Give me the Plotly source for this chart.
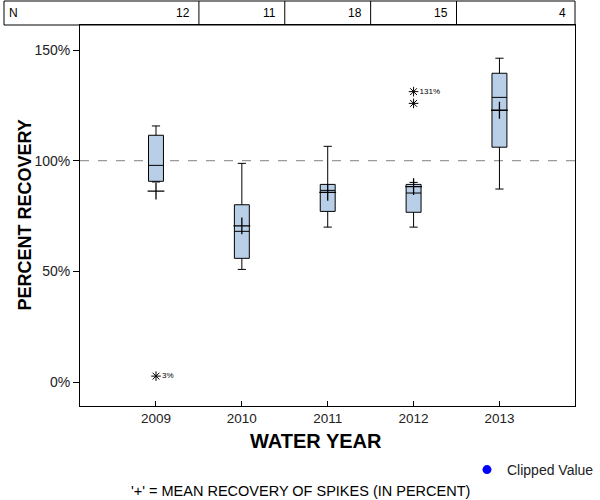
import plotly.graph_objects as go

years = ["2009", "2010", "2011", "2012", "2013"]
n_counts = [12, 11, 18, 15, 4]
q1 = [90.7, 55.9, 77.1, 76.7, 106.1]
median = [97.9, 68.1, 86.6, 85.4, 128.6]
q3 = [111.5, 80.1, 89.3, 89.3, 139.5]
lower_whisker = [90.4, 50.9, 70.0, 70.0, 87.2]
upper_whisker = [115.7, 98.8, 106.5, 90.2, 146.3]
means = [86.3, 70.6, 85.7, 88.3, 122.8]
outlier_year_idx = [0, 3, 3]
outlier_values = [2.7, 131.2, 125.9]
outlier_labels = ["3%", "131%", ""]
y_ticks = [0, 50, 100, 150]
y_tick_text = ["0%", "50%", "100%", "150%"]

pos = list(range(len(years)))
FONT = "Arial, Liberation Sans, sans-serif"

fig = go.Figure()
fig.add_trace(go.Box(
    x=pos, q1=q1, median=median, q3=q3,
    lowerfence=lower_whisker, upperfence=upper_whisker,
    width=0.174, whiskerwidth=0.55,
    fillcolor="#B9CFE8", line=dict(color="black", width=1),
    showlegend=False, hoverinfo="skip",
))
fig.add_trace(go.Scatter(
    x=pos, y=means, mode="markers",
    marker=dict(symbol="cross-thin-open", size=12, color="black",
                line=dict(color="black", width=1.3)),
    showlegend=False, hoverinfo="skip",
))
fig.add_trace(go.Scatter(
    x=[pos[i] for i in outlier_year_idx], y=outlier_values,
    mode="markers+text", text=outlier_labels, textposition="middle right",
    textfont=dict(family=FONT, size=8, color="black"),
    marker=dict(symbol="asterisk-open", size=8, color="black",
                line=dict(color="black", width=1)),
    showlegend=False, hoverinfo="skip",
))
fig.add_trace(go.Scatter(
    x=[None], y=[None], mode="markers", name="Clipped Value",
    marker=dict(symbol="circle", size=9, color="blue"),
))

# reference line at 100%
fig.add_shape(type="line", xref="paper", yref="y", x0=0, x1=1, y0=100, y1=100,
              line=dict(color="gray", width=1, dash="dash"), layer="below")

# N row
x_left = -76 / 495
fig.add_shape(type="rect", xref="paper", yref="paper", x0=x_left, x1=1,
              y0=1, y1=1 + 24 / 381, line=dict(color="black", width=1))
for i in range(len(years) - 1):
    fig.add_shape(type="line", xref="x", yref="paper", x0=i + 0.5, x1=i + 0.5,
                  y0=1, y1=1 + 24 / 381, line=dict(color="black", width=1))
fig.add_annotation(text="N", xref="paper", yref="paper", x=x_left, y=1 + 12 / 381,
                   xanchor="left", yanchor="middle", xshift=3, showarrow=False,
                   font=dict(family=FONT, size=12, color="black"))
for i, n in enumerate(n_counts):
    fig.add_annotation(text=str(n), xref="x", yref="paper",
                       x=i + 0.5 if i < len(years) - 1 else 4.88,
                       y=1 + 12 / 381, xanchor="right", yanchor="middle",
                       xshift=-7, showarrow=False,
                       font=dict(family=FONT, size=12, color="black"))

# axis titles
fig.add_annotation(text="<b>WATER YEAR</b>", xref="paper", yref="paper",
                   x=236 / 495, y=-35 / 381, xanchor="center", yanchor="middle",
                   showarrow=False, font=dict(family=FONT, size=20, color="black"))
fig.add_annotation(text="<b>PERCENT RECOVERY</b>", xref="paper", yref="paper",
                   x=-56 / 495, y=0.5, xanchor="center", yanchor="middle",
                   textangle=-90, showarrow=False,
                   font=dict(family=FONT, size=18, color="black"))
fig.add_annotation(text="'+' = MEAN RECOVERY OF SPIKES (IN PERCENT)",
                   xref="paper", yref="paper", x=220 / 495, y=-85 / 381,
                   xanchor="center", yanchor="middle", showarrow=False,
                   font=dict(family=FONT, size=14.5, color="black"))

fig.update_layout(
    width=600, height=500,
    margin=dict(l=80, r=25, t=25, b=94, autoexpand=False),
    plot_bgcolor="white", paper_bgcolor="white",
    font=dict(family=FONT, size=14, color="#222"),
    legend=dict(x=387 / 495, y=-48 / 381, xanchor="left", yanchor="top",
                bgcolor="rgba(0,0,0,0)", font=dict(size=14, color="#222")),
    showlegend=True,
)
fig.update_xaxes(range=[-0.885, 4.88], tickvals=pos, ticktext=years,
                 showgrid=False, zeroline=False, showline=True, linecolor="black",
                 mirror=True, ticks="inside", ticklen=5, tickcolor="black",
                 tickfont=dict(size=13.5))
fig.update_yaxes(range=[-10.8, 161.3], tickvals=y_ticks, ticktext=y_tick_text,
                 showgrid=False, zeroline=False, showline=True, linecolor="black",
                 mirror=True, ticks="outside", ticklen=6, tickcolor="black",
                 tickfont=dict(size=14))

fig.write_html("out.html", config={"displayModeBar": False},
               post_script="document.body.style.margin='0';document.body.style.overflow='hidden';")
